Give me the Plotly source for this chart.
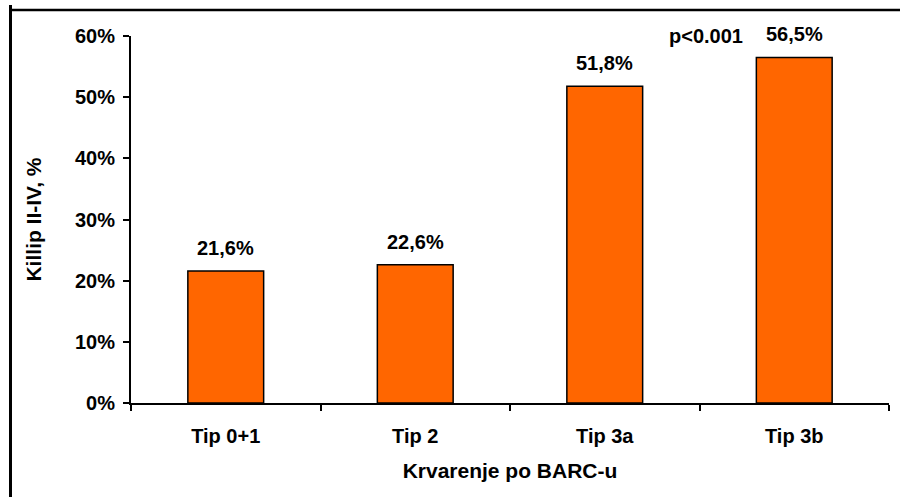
import plotly.graph_objects as go

categories = ["Tip 0+1", "Tip 2", "Tip 3a", "Tip 3b"]
values = [21.6, 22.6, 51.8, 56.5]
value_labels = ["21,6%", "22,6%", "51,8%", "56,5%"]
y_ticks = [0, 10, 20, 30, 40, 50, 60]
y_tick_labels = ["0%", "10%", "20%", "30%", "40%", "50%", "60%"]
p_text = "p<0.001"

W, H = 906, 497
ML, MR, MT, MB = 131, 17, 36, 94
pw, ph = W - ML - MR, H - MT - MB

FONT = "Liberation Sans, Arial, sans-serif"

fig = go.Figure()
fig.add_trace(go.Bar(
    x=categories, y=values, width=0.4,
    marker=dict(color="#FF6600", line=dict(color="black", width=1.5)),
    hoverinfo="skip",
))

annotations = []
for c, v, t in zip(categories, values, value_labels):
    annotations.append(dict(x=c, y=v, text=f"<b>{t}</b>", showarrow=False,
                            xref="x", yref="y", yanchor="middle", yshift=23,
                            font=dict(family=FONT, size=20, color="black")))
annotations.append(dict(x=2.535, y=values[3], text=f"<b>{p_text}</b>", showarrow=False,
                        xref="x", yref="y", yanchor="middle", yshift=21,
                        font=dict(family=FONT, size=20, color="black")))

def px_to_paper_x(px):
    return (px - ML) / pw

def px_to_paper_y(py):
    return 1 - (py - MT) / ph

shapes = [
    dict(type="line", xref="paper", yref="paper", layer="above",
         x0=px_to_paper_x(10.5), x1=px_to_paper_x(10.5),
         y0=px_to_paper_y(520), y1=px_to_paper_y(5),
         line=dict(color="black", width=3)),
    dict(type="line", xref="paper", yref="paper", layer="above",
         x0=px_to_paper_x(9), x1=px_to_paper_x(900),
         y0=px_to_paper_y(10), y1=px_to_paper_y(10),
         line=dict(color="black", width=2.5)),
]

fig.update_layout(
    width=W, height=H,
    margin=dict(l=ML, r=MR, t=MT, b=MB),
    plot_bgcolor="white", paper_bgcolor="white",
    showlegend=False,
    font=dict(family=FONT, size=20, color="black"),
    annotations=annotations,
    shapes=shapes,
    xaxis=dict(
        type="category", range=[-0.5, 3.5],
        tickson="boundaries", ticks="outside", ticklen=6, tickwidth=2, tickcolor="black",
        showline=True, linecolor="black", linewidth=2,
        tickfont=dict(family=FONT, size=20, color="black"),
        ticklabelstandoff=14,
        title=dict(text="<b>Krvarenje po BARC-u</b>", font=dict(family=FONT, size=21, color="black"), standoff=17),
        showgrid=False, zeroline=False,
    ),
    yaxis=dict(
        range=[0, 60], tickvals=y_ticks, ticktext=[f"<b>{t}</b>" for t in y_tick_labels],
        ticks="outside", ticklen=6, tickwidth=2, tickcolor="black",
        showline=True, linecolor="black", linewidth=2,
        tickfont=dict(family=FONT, size=20, color="black"),
        ticklabelstandoff=4,
        title=dict(text="<b>Killip II-IV, %</b>", font=dict(family=FONT, size=21, color="black"), standoff=28),
        showgrid=False, zeroline=False,
    ),
)
fig.update_xaxes(ticktext=[f"<b>{c}</b>" for c in categories], tickvals=categories)

fig.write_html("out.html", config={"displayModeBar": False},
               post_script="document.body.style.margin='0';")
